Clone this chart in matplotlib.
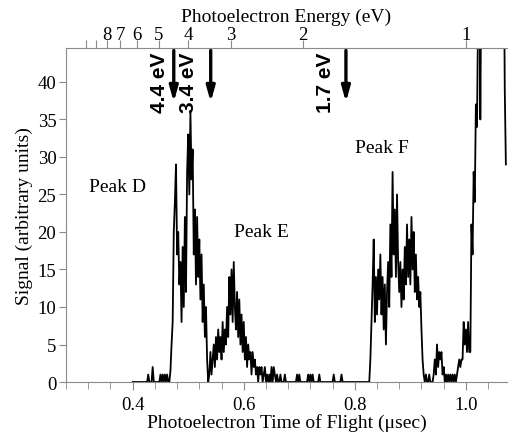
import numpy as np
import matplotlib
matplotlib.use('Agg')
import matplotlib.pyplot as plt
from matplotlib.ticker import MultipleLocator

plt.rcParams['font.family'] = 'serif'
plt.rcParams['font.serif'] = ['Liberation Serif', 'DejaVu Serif']

# time-of-flight sampling (usec) and measured signal
TOF_START = 0.400
TOF_STEP = 0.002
SIGNAL = [
    0, 0, 0, 0, 0, 0, 0, 0, 0, 0, 0, 0, 0, 0, 1, 0, 0, 0, 2, 0,
    0, 0, 0, 0, 0, 1, 0, 1, 0, 1, 0, 1, 0, 0, 1.5, 5, 8, 20, 24, 29,
    17, 20, 13, 16, 8, 18, 10, 22, 12, 28, 33, 25, 36, 27, 31, 17, 23, 13, 22, 14,
    19, 11, 17, 8, 13, 6, 10, 3, 0, 1, 4, 1, 3, 5, 2, 6, 3, 7, 4, 6,
    3, 8, 4, 7, 5, 10, 6, 14, 9, 15, 8, 16, 10, 7, 12, 6, 11, 5, 9, 4,
    8, 3, 6, 2, 5, 3, 4, 1, 4, 2, 3, 1, 2, 0, 2, 1, 2, 0, 1, 2,
    0, 1, 0, 1, 0, 2, 0, 2, 1, 0, 1, 0, 0, 1, 0, 0, 0, 1, 0, 0,
    0, 0, 0, 0, 0, 0, 0, 0, 1, 0, 1, 0, 0, 0, 0, 0, 0, 0, 1, 0,
    1, 0, 1, 0, 0, 0, 0, 0, 1, 0, 0, 0, 0, 0, 0, 0, 0, 0, 0, 0,
    0, 1, 0, 0, 0, 0, 0, 0, 1, 0, 0, 0, 0, 0, 0, 0, 0, 0, 0, 0,
    0, 0, 0, 0, 0, 0, 0, 0, 0, 0, 0, 0, 0, 0, 3, 8, 13, 19, 8, 14,
    9, 15, 11, 17, 9, 14, 7, 13, 5, 12, 16, 10, 21, 14, 28, 17, 23, 14, 25, 16,
    12, 16, 10, 15, 11, 18, 13, 21, 14, 19, 13, 22, 15, 20, 12, 17, 11, 14, 10, 12,
    7, 3, 1, 0, 1, 0, 0, 1, 0, 0, 0, 1, 3, 1, 5, 2, 4, 3, 4, 1,
    2, 0, 1, 0, 1, 0, 1, 0, 1, 0, 1, 0, 1, 2, 3, 2, 3, 3, 8, 5,
    7, 4, 8, 4, 4, 21, 17, 28, 24, 37, 34, 50, 62, 35, 58, 66, 72, 80, 75, 88,
    95, 90, 99, 96, 104, 98, 92, 97, 89, 85, 90, 78, 84, 70, 62, 39, 29,
]

# top axis: photoelectron energy (eV), E = 1 / t^2
ENERGY_TICKS = [1, 2, 3, 4, 5, 6, 7, 8, 9, 10]
ENERGY_LABELS = ['1', '2', '3', '4', '5', '6', '7', '8', '', '']

# marked energies and the flight times of their arrows
ARROW_LABELS = ['4.4 eV', '3.4 eV', '1.7 eV']
ARROW_TOF = [0.474, 0.5405, 0.784]
ARROW_TEXT_TOF = [0.4487, 0.5009, 0.7477]

PEAK_LABELS = ['Peak D', 'Peak E', 'Peak F']
PEAK_TOF = [0.373, 0.632, 0.849]
PEAK_SIGNAL = [26.0, 20.1, 31.3]

GRAY = '#8a8a8a'

tof = TOF_START + TOF_STEP * np.arange(len(SIGNAL))
signal = np.array(SIGNAL, dtype=float)

fig = plt.figure(figsize=(5.08, 4.35), dpi=100)
ax = fig.add_axes([0.130, 0.1195, 0.868, 0.7675])

ax.plot(tof, signal, color='black', lw=1.3)
ax.set_xlim(0.28, 1.074)
ax.set_ylim(0, 44.5)

ax.xaxis.set_major_locator(MultipleLocator(0.2))
ax.xaxis.set_minor_locator(MultipleLocator(0.04))
ax.xaxis.set_major_formatter(plt.FuncFormatter(lambda v, p: f'{v:.1f}'))
ax.yaxis.set_major_locator(MultipleLocator(5))

for s in ['top', 'right']:
    ax.spines[s].set_visible(False)
for s in ['left', 'bottom']:
    ax.spines[s].set_color(GRAY)
ax.tick_params(axis='both', which='both', color=GRAY, labelsize=13.5, direction='out')
ax.tick_params(axis='x', which='major', length=6, pad=4)
ax.tick_params(axis='x', which='minor', length=5)
ax.tick_params(axis='y', length=5, pad=2)

ax.set_xlabel('Photoelectron Time of Flight (\u03bcsec)', fontsize=14, labelpad=0)
ax.set_ylabel('Signal (arbitrary units)', fontsize=14, labelpad=3)

# top energy axis
ax2 = ax.twiny()
ax2.set_xlim(ax.get_xlim())
ax2.set_xticks([1 / np.sqrt(e) for e in ENERGY_TICKS])
ax2.set_xticklabels(ENERGY_LABELS)
ax2.xaxis.set_minor_locator(plt.NullLocator())
for s in ['left', 'right', 'bottom']:
    ax2.spines[s].set_visible(False)
ax2.spines['top'].set_color(GRAY)
ax2.tick_params(axis='x', color=GRAY, length=6, pad=-2.5, labelsize=13.5)
ax2.set_xlabel('Photoelectron Energy (eV)', fontsize=14, labelpad=3.5)

# energy markers
for lab, xa, xt in zip(ARROW_LABELS, ARROW_TOF, ARROW_TEXT_TOF):
    ax.annotate('', xy=(xa, 37.3), xytext=(xa, 44.2),
                arrowprops=dict(arrowstyle='-|>,head_length=0.9,head_width=0.25',
                                color='black', lw=2.4, mutation_scale=10,
                                shrinkA=0, shrinkB=0))
    ax.text(xt, 44.1, lab, rotation=90, ha='center', va='top',
            fontsize=15, fontweight='bold', family=['Liberation Sans', 'DejaVu Sans'])

for lab, xp, yp in zip(PEAK_LABELS, PEAK_TOF, PEAK_SIGNAL):
    ax.text(xp, yp, lab, ha='center', va='center', fontsize=14)

fig.savefig('out.png', dpi=100)
